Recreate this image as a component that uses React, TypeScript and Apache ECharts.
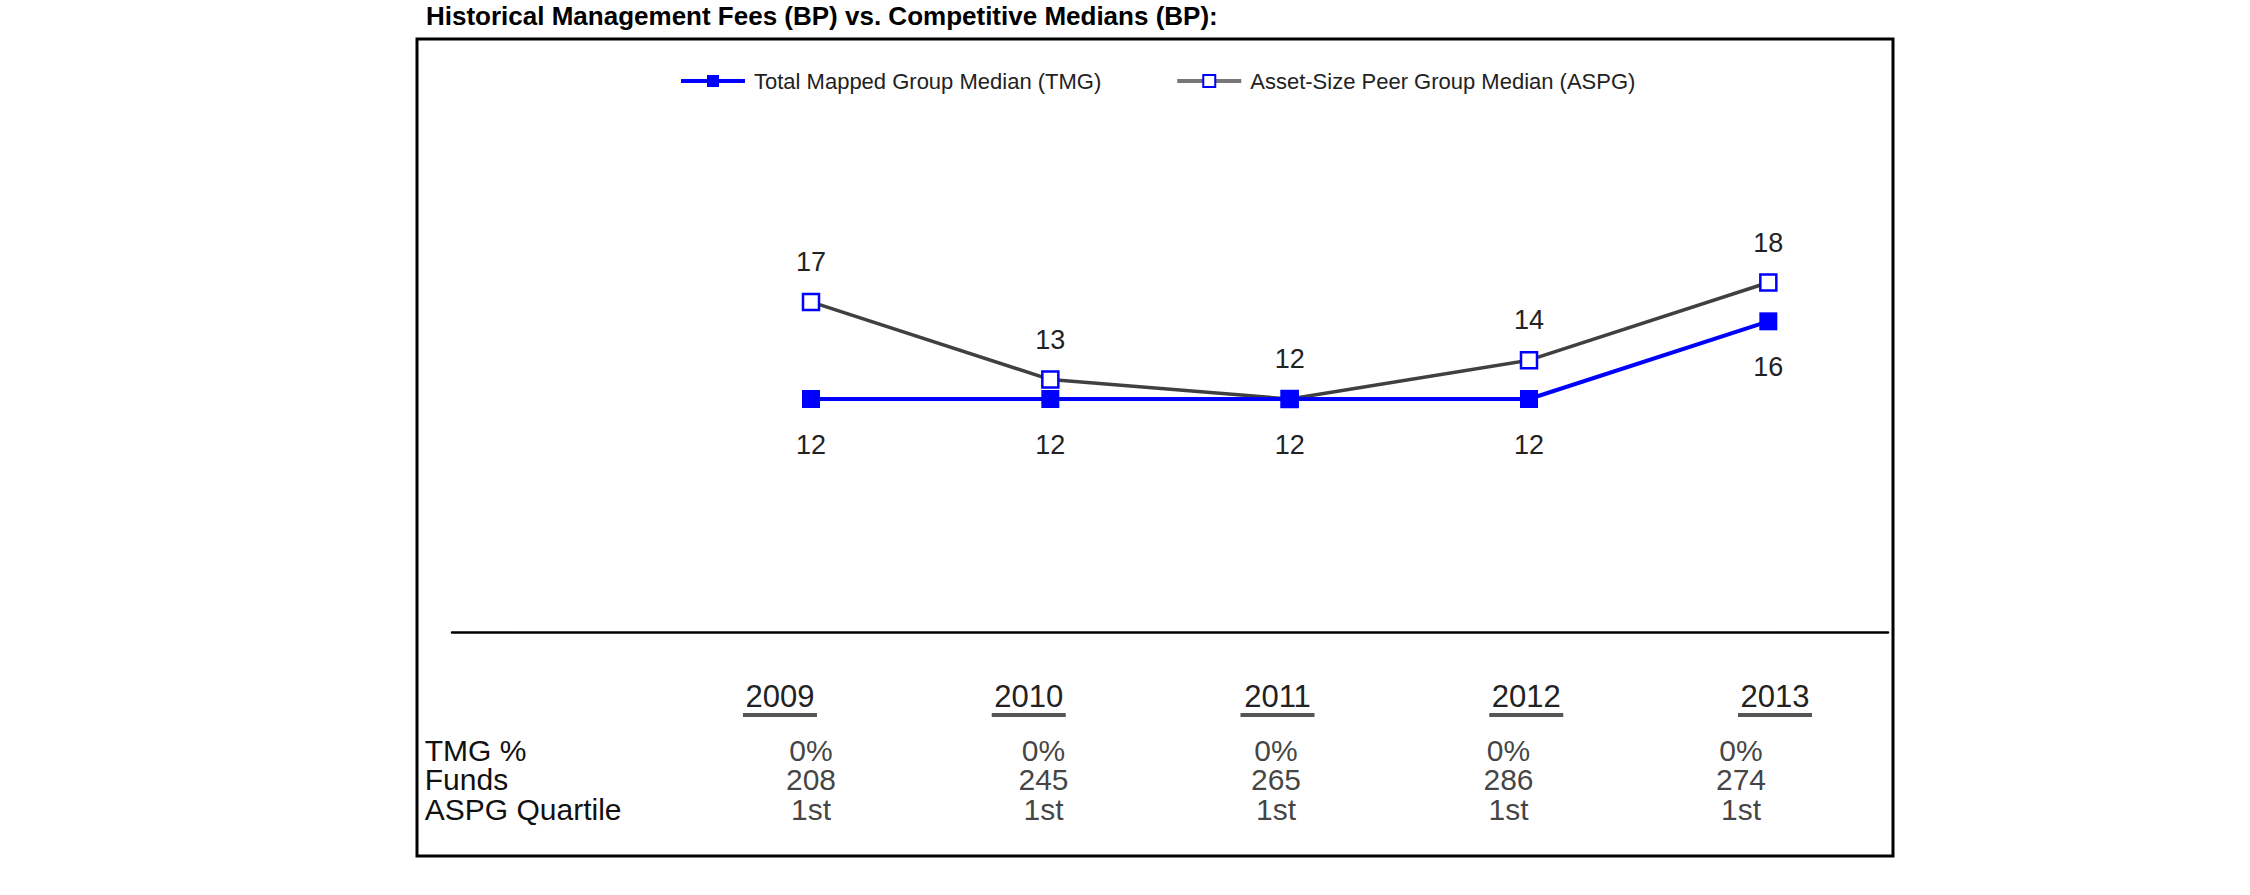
import React, { useEffect, useRef } from 'react';
import * as echarts from 'echarts';

// ---- data ----
const categories = ['2009', '2010', '2011', '2012', '2013'];
const tmgMedian = [12, 12, 12, 12, 16];
const aspgMedian = [17, 13, 12, 14, 18];
const tmgPct = ['0%', '0%', '0%', '0%', '0%'];
const funds = ['208', '245', '265', '286', '274'];
const aspgQuartile = ['1st', '1st', '1st', '1st', '1st'];
const rowLabels = ['TMG %', 'Funds', 'ASPG Quartile'];
const seriesNames = ['Total Mapped Group Median (TMG)', 'Asset-Size Peer Group Median (ASPG)'];
const titleText = 'Historical Management Fees (BP) vs. Competitive Medians (BP):';

const FONT = "'Liberation Sans', Arial, Helvetica, sans-serif";

export default function App() {
  const ref = useRef<HTMLDivElement>(null);

  useEffect(() => {
    document.body.style.margin = '0';
    if (!ref.current) return;
    const chart = echarts.init(ref.current, undefined, { renderer: 'svg' });

    const tableRows = [tmgPct, funds, aspgQuartile];
    const tableData: any[] = [];
    tableRows.forEach((row, r) => {
      row.forEach((txt, c) => {
        tableData.push({ value: [c, r], name: txt });
      });
    });

    const option: any = {
      animation: false,
      backgroundColor: '#ffffff',
      title: {
        text: titleText,
        left: 426,
        top: 3,
        padding: 0,
        textStyle: { fontFamily: FONT, fontSize: 26, fontWeight: 'bold', color: '#000' },
      },
      legend: {
        left: 679,
        top: 70,
        padding: 0,
        itemWidth: 64,
        itemHeight: 15,
        itemGap: 74,
        lineStyle: { width: 4 },
        data: [
          { name: seriesNames[0] },
          { name: seriesNames[1], lineStyle: { color: '#777777', width: 4 } },
        ],
        textStyle: { fontFamily: FONT, fontSize: 22, color: '#222', padding: [0, 0, 0, 4] },
      },
      graphic: [
        {
          type: 'rect',
          silent: true,
          shape: { x: 417, y: 39, width: 1476, height: 817 },
          style: { fill: 'none', stroke: '#000', lineWidth: 3 },
        },
      ],
      grid: [
        { left: 452, right: 362, top: 166, bottom: 263 },
        { left: 655.6, right: 350.6, top: 650, height: 10 },
        { left: 694.75, right: 392.75, top: 735.25, height: 88.5 },
      ],
      xAxis: [
        {
          gridIndex: 0,
          type: 'category',
          data: ['', ...categories],
          boundaryGap: true,
          axisLine: { show: true, lineStyle: { color: '#000', width: 2.5 } },
          axisTick: { show: false },
          axisLabel: { show: false },
          splitLine: { show: false },
        },
        {
          gridIndex: 1,
          type: 'category',
          data: categories,
          boundaryGap: true,
          axisLine: { show: false },
          axisTick: { show: false },
          splitLine: { show: false },
          axisLabel: {
            interval: 0,
            margin: 19,
            formatter: (v: string) => `{y|${v}}\n{u| }`,
            rich: {
              y: { fontFamily: FONT, fontSize: 31, color: '#222', lineHeight: 34, align: 'center' },
              u: { width: 74, height: 4, lineHeight: 4, fontSize: 3, backgroundColor: '#555', align: 'center' },
            },
          },
        },
        {
          gridIndex: 2,
          type: 'category',
          data: categories,
          boundaryGap: true,
          show: false,
        },
      ],
      yAxis: [
        { gridIndex: 0, type: 'value', min: 0, max: 24, show: false, splitLine: { show: false } },
        { gridIndex: 1, type: 'value', min: 0, max: 1, show: false, splitLine: { show: false } },
        {
          gridIndex: 2,
          type: 'category',
          data: rowLabels,
          inverse: true,
          axisLine: { show: false },
          axisTick: { show: false },
          splitLine: { show: false },
          axisLabel: {
            interval: 0,
            align: 'left',
            margin: 270,
            fontFamily: FONT,
            fontSize: 30,
            color: '#111',
          },
        },
      ],
      series: [
        {
          name: seriesNames[0],
          type: 'line',
          xAxisIndex: 0,
          yAxisIndex: 0,
          data: [null, ...tmgMedian],
          symbol: 'rect',
          symbolSize: 18,
          z: 4,
          lineStyle: { color: '#0000ff', width: 4 },
          itemStyle: { color: '#0000ff' },
          label: {
            show: true,
            position: 'bottom',
            distance: 23,
            fontFamily: FONT,
            fontSize: 27,
            color: '#222',
          },
        },
        {
          name: seriesNames[1],
          type: 'line',
          xAxisIndex: 0,
          yAxisIndex: 0,
          data: [null, ...aspgMedian],
          symbol: 'rect',
          symbolSize: 16,
          z: 3,
          lineStyle: { color: '#404040', width: 3.5 },
          itemStyle: { color: '#ffffff', borderColor: '#0000ff', borderWidth: 2.5 },
          label: {
            show: true,
            position: 'top',
            distance: 17,
            fontFamily: FONT,
            fontSize: 27,
            color: '#222',
          },
        },
        {
          name: 'table',
          type: 'scatter',
          xAxisIndex: 2,
          yAxisIndex: 2,
          data: tableData,
          symbolSize: 1,
          silent: true,
          itemStyle: { color: 'rgba(0,0,0,0)' },
          label: {
            show: true,
            position: 'inside',
            formatter: '{b}',
            fontFamily: FONT,
            fontSize: 30,
            color: '#111',
          },
        },
      ],
    };

    chart.setOption(option);
    return () => {
      chart.dispose();
    };
  }, []);

  return <div ref={ref} style={{ width: 2250, height: 895 }} />;
}
